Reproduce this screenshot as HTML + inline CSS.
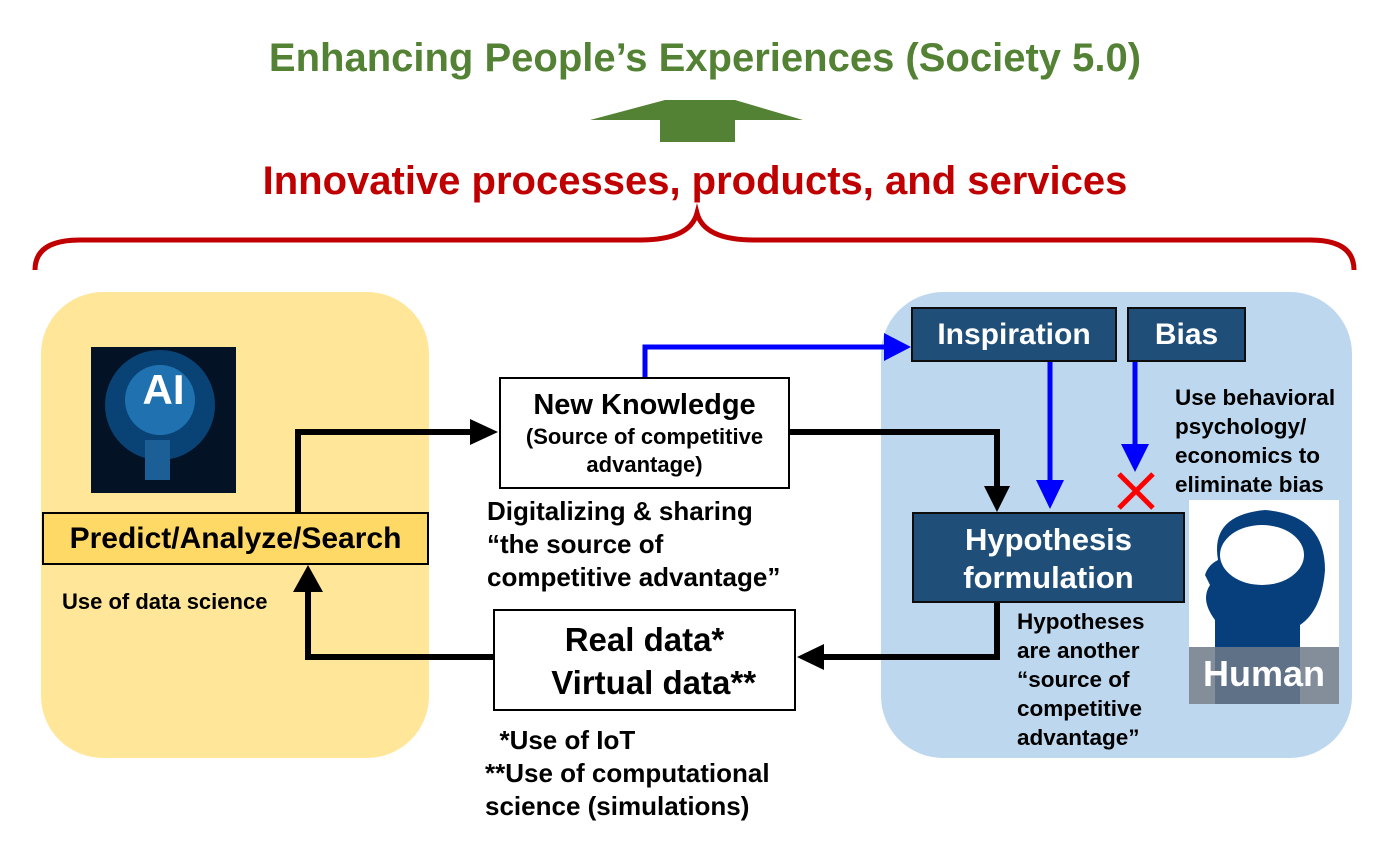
<!DOCTYPE html>
<html><head><meta charset="utf-8"><style>
body{margin:0;width:1399px;height:844px;background:#fff;position:relative;overflow:hidden;font-family:"Liberation Sans",Arial,Helvetica,sans-serif;font-weight:bold}
.a{position:absolute;white-space:nowrap}
.box{position:absolute;box-sizing:border-box;border:2px solid #000;text-align:center;white-space:nowrap}
.db{position:absolute;box-sizing:border-box;background:#1f4e79;border:2px solid #0d0d0d;color:#fff;text-align:center;white-space:nowrap}
</style></head><body>
<div style="position:absolute;left:41px;top:292px;width:388px;height:466px;background:#ffe699;border-radius:62px"></div>
<div style="position:absolute;left:881px;top:292px;width:471px;height:466px;background:#bdd7ee;border-radius:62px"></div>

<div class="a" style="left:0;width:1410px;text-align:center;top:36px;font-size:40px;color:#548235">Enhancing People’s Experiences (Society 5.0)</div>
<div class="a" style="left:0;width:1390px;text-align:center;top:159px;font-size:40px;color:#c00000">Innovative processes, products, and services</div>

<svg width="1399" height="844" style="position:absolute;left:0;top:0">
<polygon points="590,120 665,100 735,100 803,120 735,120 735,142 660,142 660,120" fill="#548235"/>
<path d="M35,270 Q35,240 80,240 L640,240 Q690,240 697,213 Q704,240 754,240 L1310,240 Q1354,240 1354,270" fill="none" stroke="#c00000" stroke-width="5"/>
<rect x="91" y="347" width="145" height="146" fill="#041226"/>
<circle cx="160" cy="405" r="55" fill="#0b4f8a" opacity="0.8"/>
<circle cx="160" cy="400" r="35" fill="#2a87c8" opacity="0.7"/>
<rect x="145" y="440" width="25" height="40" fill="#1c5e96"/>
<g fill="none" stroke="#000" stroke-width="6">
<polyline points="298,512 298,432 472,432"/>
<polyline points="790,432 997,432 997,488"/>
<polyline points="997,603 997,657 822,657"/>
<polyline points="493,657 308,657 308,590"/>
</g>
<polygon points="470,419 498,432 470,445" fill="#000"/>
<polygon points="984,486 1010,486 997,512" fill="#000"/>
<polygon points="824,644 824,670 797,657" fill="#000"/>
<polygon points="293,592 323,592 308,565" fill="#000"/>
<g fill="none" stroke="#0000ff" stroke-width="5">
<polyline points="645,377 645,347 886,347"/>
<line x1="1050" y1="362" x2="1050" y2="482"/>
<line x1="1135" y1="362" x2="1135" y2="446"/>
</g>
<polygon points="884,333 911,347 884,361" fill="#0000ff"/>
<polygon points="1036,480 1064,480 1050,509" fill="#0000ff"/>
<polygon points="1121,444 1149,444 1135,472" fill="#0000ff"/>
<g stroke="#ff0000" stroke-width="5"><line x1="1119" y1="474" x2="1153" y2="508"/><line x1="1153" y1="474" x2="1119" y2="508"/></g>
<rect x="1189" y="500" width="150" height="204" fill="#fff"/>
<path d="M1215,660 L1215,620 Q1200,600 1210,585 L1205,575 Q1208,565 1218,560 Q1210,515 1265,510 Q1325,515 1325,570 Q1322,610 1300,625 L1300,704 L1215,704z" fill="#073f7c"/>
<ellipse cx="1262" cy="555" rx="42" ry="30" fill="#fff"/>
<rect x="1189" y="647" width="150" height="57" fill="#6f7a88" opacity="0.85"/>
</svg>

<div class="a" style="left:91px;top:366px;width:145px;text-align:center;font-size:42px;color:#fff">AI</div>
<div class="a" style="left:1189px;top:653px;width:150px;text-align:center;font-size:36px;color:#fff">Human</div>

<div class="box" style="left:42px;top:512px;width:387px;height:53px;background:#ffd966;font-size:30px;line-height:50px">Predict/Analyze/Search</div>
<div class="a" style="left:62px;top:589px;font-size:22px">Use of data science</div>

<div class="box" style="left:499px;top:377px;width:291px;height:112px;background:#fff">
<div style="font-size:29px;margin-top:10px">New Knowledge</div>
<div style="font-size:22px;line-height:28px;margin-top:1px">(Source of competitive<br>advantage)</div></div>
<div class="a" style="left:487px;top:495px;font-size:26px;line-height:33px">Digitalizing &amp; sharing<br>“the source of<br>competitive advantage”</div>

<div class="box" style="left:493px;top:609px;width:303px;height:102px;background:#fff;font-size:33px;line-height:43px;padding-top:7px">Real data*<br>&nbsp;&nbsp;Virtual data**</div>
<div class="a" style="left:485px;top:724px;font-size:26px;line-height:33px">&nbsp;&nbsp;*Use of IoT<br>**Use of computational<br>science (simulations)</div>

<div class="db" style="left:911px;top:307px;width:206px;height:55px;font-size:30px;line-height:52px">Inspiration</div>
<div class="db" style="left:1127px;top:307px;width:119px;height:55px;font-size:30px;line-height:52px">Bias</div>
<div class="db" style="left:912px;top:512px;width:273px;height:91px;font-size:31px;line-height:38px;padding-top:7px">Hypothesis<br>formulation</div>

<div class="a" style="left:1175px;top:383px;font-size:22.5px;line-height:29px">Use behavioral<br>psychology/<br>economics to<br>eliminate bias</div>
<div class="a" style="left:1017px;top:607px;font-size:22.5px;line-height:29px">Hypotheses<br>are another<br>“source of<br>competitive<br>advantage”</div>
</body></html>
